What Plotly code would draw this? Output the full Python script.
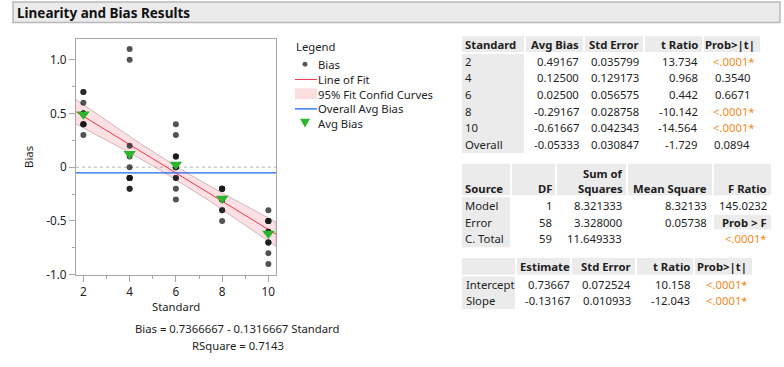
import numpy as np
import plotly.graph_objects as go

W, H = 784, 367
FONT = "Noto Sans"
FS = 11.3
TXT = "#1e1e1e"
ORANGE = "#f08a24"
GRAY_BG = "#ebebeb"

# ---------------- data ----------------
standards = [2, 4, 6, 8, 10]
bias_2 = [0.7, 0.5, 0.4, 0.5, 0.7, 0.3, 0.5, 0.5, 0.4, 0.4, 0.6, 0.4]
bias_4 = [1.1, -0.1, 0.2, 1.0, -0.2, -0.1, -0.1, -0.1, -0.1, 0.0, 0.1, -0.2]
bias_6 = [-0.2, -0.3, -0.1, -0.1, 0.0, 0.1, 0.0, 0.1, 0.4, 0.3, 0.0, 0.1]
bias_8 = [-0.4, -0.3, -0.2, -0.3, -0.2, -0.2, -0.2, -0.3, -0.2, -0.5, -0.4, -0.3]
bias_10 = [-0.9, -0.7, -0.5, -0.7, -0.6, -0.5, -0.5, -0.5, -0.4, -0.8, -0.7, -0.6]
bias_groups = [bias_2, bias_4, bias_6, bias_8, bias_10]

x_ticks = [2, 4, 6, 8, 10]
y_ticks = [-1.0, -0.5, 0.0, 0.5, 1.0]
y_tick_labels = ["-1.0", "-0.5", "0", "0.5", "1.0"]

tbl1_header = ["Standard", "Avg Bias", "Std Error", "t Ratio", "Prob>|t|"]
tbl1_labels = ["2", "4", "6", "8", "10", "Overall"]
tbl1_avg = ["0.49167", "0.12500", "0.02500", "-0.29167", "-0.61667", "-0.05333"]
tbl1_se = ["0.035799", "0.129173", "0.056575", "0.028758", "0.042343", "0.030847"]
tbl1_t = ["13.734", "0.968", "0.442", "-10.142", "-14.564", "-1.729"]
tbl1_p = ["<.0001*", "0.3540", "0.6671", "<.0001*", "<.0001*", "0.0894"]

anova_source = ["Model", "Error", "C. Total"]
anova_df = ["1", "58", "59"]
anova_ss = ["8.321333", "3.328000", "11.649333"]
anova_ms = ["8.32133", "0.05738", ""]
anova_f = ["145.0232", "Prob > F", "<.0001*"]

coef_labels = ["Intercept", "Slope"]
coef_est = ["0.73667", "-0.13167"]
coef_se = ["0.072524", "0.010933"]
coef_t = ["10.158", "-12.043"]
coef_p = ["<.0001*", "<.0001*"]

equation_text = "Bias = 0.7366667 - 0.1316667 Standard"
rsquare_text = "RSquare = 0.7143"

# ---------------- fit ----------------
xs = np.concatenate([[s] * len(g) for s, g in zip(standards, bias_groups)]).astype(float)
ys = np.concatenate(bias_groups).astype(float)
slope, intercept = np.polyfit(xs, ys, 1)
n = len(xs)
resid = ys - (intercept + slope * xs)
s_err = np.sqrt(np.sum(resid ** 2) / (n - 2))
sxx = np.sum((xs - xs.mean()) ** 2)
t_crit = 2.0017
x_range = [1.68, 10.33]
xg = np.linspace(x_range[0], x_range[1], 60)
yfit = intercept + slope * xg
half = t_crit * s_err * np.sqrt(1.0 / n + (xg - xs.mean()) ** 2 / sxx)
avg_bias = [float(np.mean(g)) for g in bias_groups]
overall = float(ys.mean())


def px(x):
    return x / W


def py(y):
    return 1 - y / H


fig = go.Figure()

# confidence band
fig.add_trace(go.Scatter(
    x=np.concatenate([xg, xg[::-1]]), y=np.concatenate([yfit + half, (yfit - half)[::-1]]),
    fill="toself", fillcolor="rgba(240,70,90,0.17)",
    line=dict(color="rgba(205,175,180,0.9)", width=1), hoverinfo="skip", showlegend=False))
# fit line
fig.add_trace(go.Scatter(x=xg, y=yfit, mode="lines", line=dict(color="#f0364e", width=1),
                         showlegend=False))
# points
fig.add_trace(go.Scatter(x=xs, y=ys, mode="markers",
                         marker=dict(size=6, color="rgba(25,25,25,0.75)", line=dict(width=0)),
                         showlegend=False))
# avg bias triangles
fig.add_trace(go.Scatter(x=standards, y=avg_bias, mode="markers",
                         marker=dict(symbol="triangle-down", size=11, color="#2db52d",
                                     line=dict(width=0)),
                         showlegend=False))

shapes = []
annotations = []

# zero dotted line and overall avg line
shapes.append(dict(type="line", xref="x domain", yref="y", x0=0, x1=1, y0=0, y1=0,
                   line=dict(color="#b4b4b4", width=1, dash="dot"), layer="below"))
shapes.append(dict(type="line", xref="x domain", yref="y", x0=0, x1=1, y0=overall, y1=overall,
                   line=dict(color="#1f66f0", width=1.3)))


def rect(x0, y0, x1, y1, fill=GRAY_BG, line=None, lw=0):
    shapes.append(dict(type="rect", xref="paper", yref="paper",
                       x0=px(x0), x1=px(x1), y0=py(y1), y1=py(y0),
                       fillcolor=fill, line=dict(color=line or fill, width=lw), layer="below"))


def txt(x, y, s, anchor="left", bold=False, color=TXT, size=FS):
    if bold:
        s = "<b>" + s + "</b>"
    annotations.append(dict(xref="paper", yref="paper", x=px(x), y=py(y), text=s,
                            showarrow=False, xanchor=anchor, yanchor="middle",
                            borderpad=0, borderwidth=0,
                            font=dict(family=FONT, size=size, color=color)))


# title bar
shapes.append(dict(type="rect", xref="paper", yref="paper", x0=px(13), x1=px(780),
                   y0=py(23), y1=py(2), fillcolor=GRAY_BG,
                   line=dict(color="#b8b8b8", width=1.5), layer="below"))
txt(17, 13, "Linearity and Bias Results", bold=True, size=13.5, color="#111111")

# axis texts
txt(176, 312, "Standard", anchor="center")
txt(238, 335, equation_text, anchor="center")
txt(238, 352, rsquare_text, anchor="center")

# legend
txt(296, 47, "Legend")
shapes.append(dict(type="circle", xref="paper", yref="paper", x0=px(302.5), x1=px(307.5),
                   y0=py(68), y1=py(63), fillcolor="#555555", line=dict(width=0)))
txt(318, 65.5, "Bias")
shapes.append(dict(type="line", xref="paper", yref="paper", x0=px(295), x1=px(317),
                   y0=py(81), y1=py(81), line=dict(color="#f0364e", width=1)))
txt(318, 81, "Line of Fit")
rect(295, 90, 317, 101, fill="#fbdde0")
txt(318, 96, "95% Fit Confid Curves")
shapes.append(dict(type="line", xref="paper", yref="paper", x0=px(295), x1=px(317),
                   y0=py(111), y1=py(111), line=dict(color="#1f66f0", width=1.3)))
txt(318, 111, "Overall Avg Bias")
shapes.append(dict(type="path", xref="paper", yref="paper",
                   path="M {} {} L {} {} L {} {} Z".format(px(300), py(121), px(310), py(121),
                                                          px(305), py(130)),
                   fillcolor="#2db52d", line=dict(width=0)))
txt(318, 126, "Avg Bias")

# ---------------- table 1 ----------------
t1_cols = [(462, 524), (526, 583), (585, 643), (645, 702), (704, 760)]
for (a, b) in t1_cols:
    rect(a, 37, b, 53)
rect(462, 55, 524, 156)
t1_rows = [62.5 + i * 16.9 for i in range(6)]
txt(465, 45.5, tbl1_header[0], bold=True)
for hdr, xr in zip(tbl1_header[1:], [579, 639, 698, 755]):
    txt(xr, 45.5, hdr, anchor="right", bold=True)
for i, yy in enumerate(t1_rows):
    txt(465, yy, tbl1_labels[i])
    txt(579, yy, tbl1_avg[i], anchor="right")
    txt(639, yy, tbl1_se[i], anchor="right")
    txt(698, yy, tbl1_t[i], anchor="right")
    star = tbl1_p[i].endswith("*")
    txt(755 if star else 750, yy, tbl1_p[i], anchor="right", color=ORANGE if star else TXT)

# ---------------- table 2 ----------------
t2_cols = [(462, 510), (512, 555), (557, 626), (628, 712), (714, 771)]
for (a, b) in t2_cols:
    rect(a, 167, b, 199)
rect(462, 201, 510, 252)
rect(714, 219, 771, 234)
txt(465, 192, "Source", bold=True)
txt(552, 192, "DF", anchor="right", bold=True)
txt(622.5, 176.5, "Sum of", anchor="right", bold=True)
txt(622.5, 192, "Squares", anchor="right", bold=True)
txt(707, 192, "Mean Square", anchor="right", bold=True)
txt(767, 192, "F Ratio", anchor="right", bold=True)
t2_rows = [210, 226.7, 243.3]
for i, yy in enumerate(t2_rows):
    txt(465, yy, anova_source[i])
    txt(552, yy, anova_df[i], anchor="right")
    txt(622, yy, anova_ss[i], anchor="right")
    if anova_ms[i]:
        txt(707, yy, anova_ms[i], anchor="right")
    fv = anova_f[i]
    if fv.startswith("Prob"):
        txt(767, yy, fv, anchor="right", bold=True)
    elif fv.endswith("*"):
        txt(767, yy, fv, anchor="right", color=ORANGE)
    else:
        txt(767, yy, fv, anchor="right")

# ---------------- table 3 ----------------
t3_cols = [(462, 515), (517, 570), (572, 635), (637, 693), (695, 752)]
for (a, b) in t3_cols:
    rect(a, 263, b, 280)
rect(462, 282, 515, 315)
txt(569.5, 272, "Estimate", anchor="right", bold=True)
txt(631, 272, "Std Error", anchor="right", bold=True)
txt(690, 272, "t Ratio", anchor="right", bold=True)
txt(747, 272, "Prob>|t|", anchor="right", bold=True)
t3_rows = [290, 306.7]
for i, yy in enumerate(t3_rows):
    txt(465.5, yy, coef_labels[i])
    txt(569.5, yy, coef_est[i], anchor="right")
    txt(631, yy, coef_se[i], anchor="right")
    txt(690, yy, coef_t[i], anchor="right")
    txt(747.5, yy, coef_p[i], anchor="right", color=ORANGE)

axis_common = dict(showline=True, mirror=True, linecolor="#a6a6a6", linewidth=1,
                   showgrid=False, zeroline=False, ticks="outside", ticklen=6,
                   tickcolor="#a6a6a6", tickfont=dict(family=FONT, size=FS + 0.5, color=TXT))

fig.update_layout(
    width=W, height=H,
    margin=dict(l=0, r=0, t=0, b=0),
    paper_bgcolor="white", plot_bgcolor="white",
    showlegend=False,
    font=dict(family=FONT, size=FS, color=TXT),
    xaxis=dict(domain=[px(76), px(276)], range=x_range, tickvals=x_ticks,
               minor=dict(dtick=1, tick0=2, ticks="outside", ticklen=3, tickcolor="#a6a6a6"),
               **axis_common),
    yaxis=dict(domain=[py(280), py(40)], range=[-1.0, 1.19], tickvals=y_ticks,
               ticktext=y_tick_labels,
               minor=dict(dtick=0.25, tick0=0, ticks="outside", ticklen=3, tickcolor="#a6a6a6"),
               title=dict(text="Bias", font=dict(family=FONT, size=FS, color=TXT), standoff=10),
               **axis_common),
    shapes=shapes,
    annotations=annotations,
)

fig.write_html("out.html", config={"displayModeBar": False},
               post_script="document.body.style.margin='0';")
